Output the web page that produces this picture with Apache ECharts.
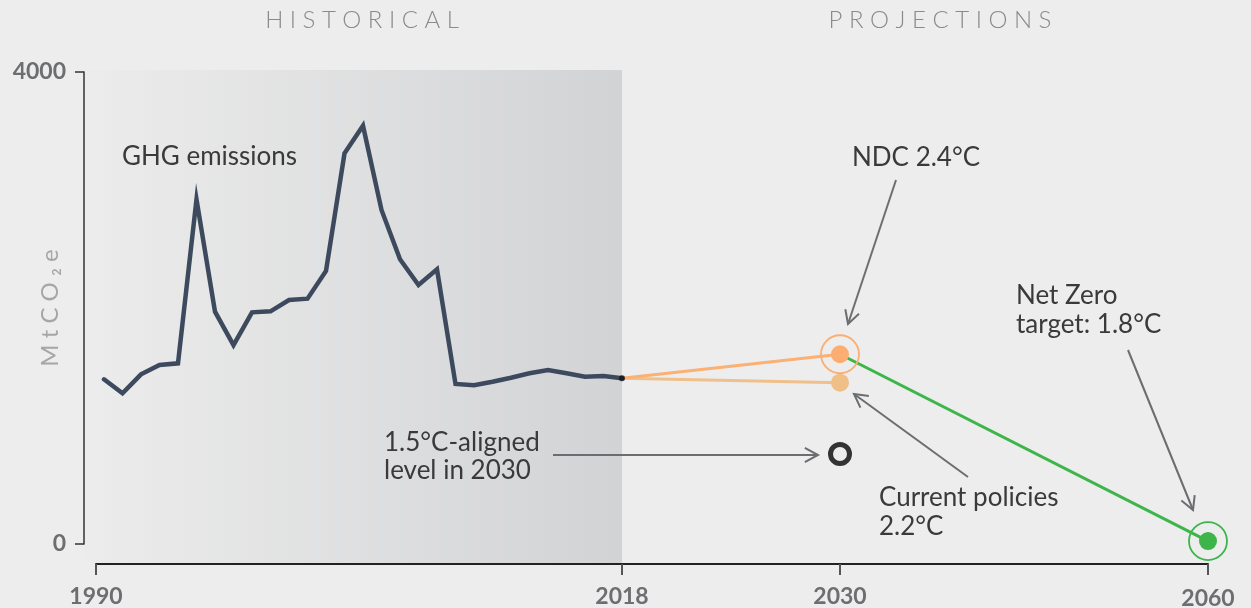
<!DOCTYPE html>
<html><head><meta charset="utf-8">
<script src="https://cdn.jsdelivr.net/npm/echarts@6/dist/echarts.min.js"></script>
<style>html,body{margin:0;padding:0;background:#ededed}#c{width:1251px;height:608px}</style>
</head><body><div id="c"></div>
<script>
// ---- data ----
const histYears = [1990,1991,1992,1993,1994,1995,1996,1997,1998,1999,2000,2001,2002,2003,2004,2005,2006,2007,2008,2009,2010,2011,2012,2013,2014,2015,2016,2017,2018];
const ghgValues = [1396,1277,1438,1517,1531,2921,1969,1686,1963,1972,2068,2079,2314,3311,3545,2831,2413,2195,2328,1356,1345,1375,1409,1447,1475,1447,1418,1424,1404];
const projYears = [2018, 2030];
const ndcValues = [1404, 1608];
const currentPolicyValues = [1404, 1367];
const netZeroYears = [2030, 2060];
const netZeroValues = [1608, 25];
const alignedYear = 2030;
const alignedValue = 763;
const yTickValues = [0, 4000];
const xTicks1 = [1990, 2018];
const xTicks2 = [2018, 2030];
const xTicks3 = [2030, 2060];

const chart = echarts.init(document.getElementById('c'), null, {renderer: 'canvas'});
const labelStyle = {fontFamily: 'Lato', fontWeight: 'bold', fontSize: 23, color: '#6d6e71', formatter: v => String(v)};
function xAx(idx, ticks, showMin, extraMargin) {
  return {
    gridIndex: idx, type: 'value', min: ticks[0], max: ticks[1], offset: 20,
    axisLine: {show: true, onZero: false, lineStyle: {color: '#222', width: 2}},
    axisTick: {show: true, length: 11, customValues: ticks, lineStyle: {color: '#555', width: 2}},
    axisLabel: Object.assign({margin: 21 + (extraMargin || 0), customValues: showMin ? ticks : [ticks[1]]}, labelStyle),
    splitLine: {show: false}
  };
}
function hiddenX(idx, ticks) {
  return {gridIndex: idx, type: 'value', min: ticks[0], max: ticks[1], show: false, splitLine: {show: false}};
}
function hiddenY(idx) {
  return {gridIndex: idx, type: 'value', min: yTickValues[0], max: yTickValues[1], show: false, splitLine: {show: false}};
}
function histData() { return histYears.map((y, i) => [y, ghgValues[i]]); }
function pair(xs, ys) { return xs.map((x, i) => [x, ys[i]]); }

const annFont = '26px Lato';
const annColor = '#3a3a3a';
function txt(x, y, t, align) {
  return {type: 'text', x: x, y: y, z: 10, style: {text: t, fill: annColor, font: annFont, textAlign: align || 'left', textVerticalAlign: 'middle'}};
}
function arrow(x1, y1, x2, y2) {
  const a = Math.atan2(y2 - y1, x2 - x1), L = 15, th = 0.5;
  const p1 = [x2 - L * Math.cos(a - th), y2 - L * Math.sin(a - th)];
  const p2 = [x2 - L * Math.cos(a + th), y2 - L * Math.sin(a + th)];
  const st = {stroke: '#6b6d70', lineWidth: 2, fill: null};
  return [
    {type: 'line', z: 10, shape: {x1: x1, y1: y1, x2: x2, y2: y2}, style: st},
    {type: 'polyline', z: 10, shape: {points: [p1, [x2, y2], p2]}, style: st}
  ];
}

const graphics = [
  {type: 'rect', z: -1, shape: {x: 84, y: 70, width: 538, height: 493},
   style: {fill: {type: 'linear', x: 0, y: 0, x2: 1, y2: 0, colorStops: [{offset: 0, color: '#ececec'}, {offset: 1, color: '#d2d3d5'}]}}},
  {type: 'text', x: 362, y: 20, style: {text: 'H I S T O R I C A L', fill: '#8a8a8a', font: '300 24px Lato', textAlign: 'center', textVerticalAlign: 'middle'}},
  {type: 'text', x: 940, y: 20, style: {text: 'P R O J E C T I O N S', fill: '#8a8a8a', font: '300 24px Lato', textAlign: 'center', textVerticalAlign: 'middle'}},
  txt(122, 157, 'GHG emissions'),
  txt(852, 158, 'NDC 2.4°C'),
  txt(1016, 296, 'Net Zero'),
  txt(1016, 325, 'target: 1.8°C'),
  txt(879, 498, 'Current policies'),
  txt(879, 527, '2.2°C'),
  txt(384, 443, '1.5°C-aligned'),
  txt(384, 471, 'level in 2030')
].concat(arrow(896, 180, 848, 324), arrow(968, 477, 854, 394), arrow(553, 455, 818, 455), arrow(1128, 350, 1193, 510));

const gridBase = {top: 72, height: 472, containLabel: false, outerBoundsMode: 'none'};
const option = {
  backgroundColor: '#ededed',
  animation: false,
  grid: [
    Object.assign({left: 96, width: 526}, gridBase),   // historical axis frame
    Object.assign({left: 104, width: 518}, gridBase),  // historical data
    Object.assign({left: 622, width: 218}, gridBase),  // 2018-2030
    Object.assign({left: 840, width: 368}, gridBase)   // 2030-2060
  ],
  xAxis: [xAx(0, xTicks1, true), hiddenX(1, xTicks1), xAx(2, xTicks2, false), xAx(3, xTicks3, false, 2)],
  yAxis: [
    {gridIndex: 0, type: 'value', min: yTickValues[0], max: yTickValues[1], interval: yTickValues[1], offset: 12,
     axisLine: {show: true, onZero: false, lineStyle: {color: '#333', width: 1.5}},
     axisTick: {show: true, length: 9, lineStyle: {color: '#333', width: 1.5}},
     axisLabel: Object.assign({margin: 18}, labelStyle),
     splitLine: {show: false},
     name: 'M t C O ₂ e', nameLocation: 'middle', nameGap: 22, nameRotate: 90, nameMoveOverlap: false,
     nameTextStyle: {fontFamily: 'Lato', fontWeight: 'normal', fontSize: 24, color: '#a6a6a6'}},
    hiddenY(1), hiddenY(2), hiddenY(3)
  ],
  graphic: graphics,
  series: [
    {type: 'line', xAxisIndex: 1, yAxisIndex: 1, data: histData(), symbol: 'none', clip: false, z: 3,
     lineStyle: {color: '#3d4a5e', width: 4.5, cap: 'round', join: 'miter'}},
    {type: 'line', xAxisIndex: 2, yAxisIndex: 2, data: pair(projYears, currentPolicyValues), symbol: 'none', clip: false, z: 2,
     lineStyle: {color: '#efc08b', width: 3}},
    {type: 'line', xAxisIndex: 2, yAxisIndex: 2, data: pair(projYears, ndcValues), symbol: 'none', clip: false, z: 2,
     lineStyle: {color: '#fbb074', width: 3}},
    {type: 'line', xAxisIndex: 3, yAxisIndex: 3, data: pair(netZeroYears, netZeroValues), symbol: 'none', clip: false, z: 2,
     lineStyle: {color: '#3db54a', width: 3}},
    {type: 'scatter', xAxisIndex: 1, yAxisIndex: 1, clip: false, z: 5, symbolSize: 6,
     data: [[histYears[histYears.length - 1], ghgValues[ghgValues.length - 1]]], itemStyle: {color: '#111'}},
    {type: 'scatter', xAxisIndex: 2, yAxisIndex: 2, clip: false, z: 5, symbolSize: 18,
     data: [[projYears[1], currentPolicyValues[1]]], itemStyle: {color: '#efbf88', opacity: 1}},
    {type: 'scatter', xAxisIndex: 2, yAxisIndex: 2, clip: false, z: 5, symbolSize: 18,
     data: [[projYears[1], ndcValues[1]]], itemStyle: {color: '#fbad72', opacity: 1}},
    {type: 'scatter', xAxisIndex: 2, yAxisIndex: 2, clip: false, z: 5, symbolSize: 38,
     data: [[projYears[1], ndcValues[1]]], itemStyle: {color: 'rgba(0,0,0,0)', borderColor: '#fbad72', borderWidth: 1.8, opacity: 1}},
    {type: 'scatter', xAxisIndex: 2, yAxisIndex: 2, clip: false, z: 5, symbolSize: 19,
     data: [[alignedYear, alignedValue]], itemStyle: {color: 'rgba(0,0,0,0)', borderColor: '#333', borderWidth: 5, opacity: 1}},
    {type: 'scatter', xAxisIndex: 3, yAxisIndex: 3, clip: false, z: 5, symbolSize: 18,
     data: [[netZeroYears[1], netZeroValues[1]]], itemStyle: {color: '#3db54a', opacity: 1}},
    {type: 'scatter', xAxisIndex: 3, yAxisIndex: 3, clip: false, z: 5, symbolSize: 38,
     data: [[netZeroYears[1], netZeroValues[1]]], itemStyle: {color: 'rgba(0,0,0,0)', borderColor: '#3db54a', borderWidth: 1.8, opacity: 1}}
  ]
};
chart.setOption(option);
</script>
</body></html>
